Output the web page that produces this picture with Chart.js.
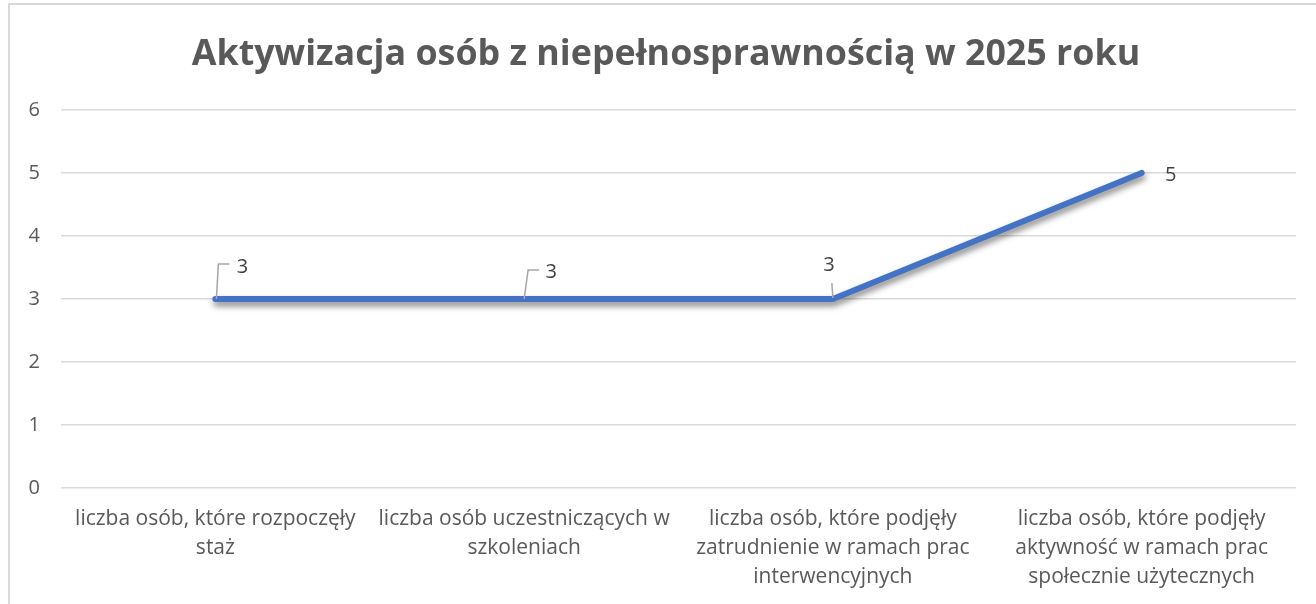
<!DOCTYPE html>
<html>
<head>
<meta charset="utf-8">
<script src="https://cdn.jsdelivr.net/npm/chart.js@4.4.1/dist/chart.umd.min.js"></script>
<style>
  html, body { margin: 0; padding: 0; background: #fff; }
  #wrap { position: absolute; left: 8px; top: 3px; width: 1306px; height: 599px;
          border-left: 2px solid #d9d9d9; border-top: 2px solid #d9d9d9; }
  canvas { display: block; }
</style>
</head>
<body>
<div id="wrap"><canvas id="c" width="1306" height="599"></canvas></div>
<script>
const titleText = 'Aktywizacja osób z niepełnosprawnością w 2025 roku';
const categories = [
  ['liczba osób, które rozpoczęły', 'staż'],
  ['liczba osób uczestniczących w', 'szkoleniach'],
  ['liczba osób, które podjęły', 'zatrudnienie w ramach prac', 'interwencyjnych'],
  ['liczba osób, które podjęły', 'aktywność w ramach prac', 'społecznie użytecznych']
];
const values = [3, 3, 3, 5];
const yTicks = [0, 1, 2, 3, 4, 5, 6];

// label placement relative to each point (style only)
const labelStyle = [
  { dx: 27, dy: -32, leader: [[1, 0], [3, -35], [14, -35]] },
  { dx: 27, dy: -27, leader: [[0, 0], [4, -29], [15, -29]] },
  { dx: -4, dy: -34, leader: [[0, -1], [-1, -16]] },
  { dx: 29, dy: 2, leader: null }
];

const FONT = "'Open Sans', 'DejaVu Sans', sans-serif";

const shadowPlugin = {
  id: 'shadow',
  afterLayout(chart) {
    // centre the title over the same span as the original
    if (chart.titleBlock) { chart.titleBlock.left = 6; chart.titleBlock.right = chart.width; }
  },
  beforeDatasetDraw(chart) {
    const ctx = chart.ctx;
    ctx.save();
    ctx.shadowColor = 'rgba(0,0,0,0.5)';
    ctx.shadowBlur = 6;
    ctx.shadowOffsetX = 1;
    ctx.shadowOffsetY = 4;
  },
  afterDatasetDraw(chart) {
    chart.ctx.restore();
  }
};

const labelPlugin = {
  id: 'dlabels',
  afterDatasetsDraw(chart) {
    const ctx = chart.ctx;
    const meta = chart.getDatasetMeta(0);
    ctx.save();
    meta.data.forEach((pt, i) => {
      const s = labelStyle[i];
      if (s.leader) {
        ctx.beginPath();
        ctx.strokeStyle = '#a6a6a6';
        ctx.lineWidth = 1.5;
        s.leader.forEach((p, k) => {
          if (k === 0) ctx.moveTo(pt.x + p[0], pt.y + p[1]);
          else ctx.lineTo(pt.x + p[0], pt.y + p[1]);
        });
        ctx.stroke();
      }
      ctx.fillStyle = '#404040';
      ctx.font = '20px ' + FONT;
      ctx.textAlign = 'center';
      ctx.textBaseline = 'middle';
      ctx.fillText(String(values[i]), pt.x + s.dx, pt.y + s.dy);
    });
    ctx.restore();
  }
};

new Chart(document.getElementById('c'), {
  type: 'line',
  data: {
    labels: categories,
    datasets: [{
      data: values,
      borderColor: '#4472c4',
      borderWidth: 6,
      borderCapStyle: 'round',
      borderJoinStyle: 'round',
      pointRadius: 0,
      tension: 0,
      fill: false
    }]
  },
  options: {
    responsive: false,
    animation: false,
    devicePixelRatio: 1,
    layout: { padding: { top: 0, right: 20, left: 0, bottom: 0 } },
    plugins: {
      legend: { display: false },
      tooltip: { enabled: false },
      title: {
        display: true,
        text: titleText,
        color: '#595959',
        font: { family: FONT, size: 35.8, weight: 'bold', lineHeight: 1.2 },
        padding: { top: 28, bottom: 34 }
      }
    },
    scales: {
      x: {
        offset: true,
        grid: { display: false, drawTicks: false, offset: true },
        border: { display: false },
        ticks: {
          color: '#595959',
          font: { family: FONT, size: 21, lineHeight: 1.38 },
          padding: 17,
          maxRotation: 0,
          autoSkip: false
        },
        afterFit(scale) { scale.height = 116; }
      },
      y: {
        min: 0, max: 6,
        afterBuildTicks(scale) { scale.ticks = yTicks.map(v => ({ value: v })); },
        grid: { color: '#d9d9d9', lineWidth: 1.5, drawTicks: false },
        border: { display: false },
        ticks: {
          color: '#595959',
          font: { family: FONT, size: 20 },
          padding: 21
        },
        afterFit(scale) { scale.width = 51; }
      }
    }
  },
  plugins: [shadowPlugin, labelPlugin]
});
</script>
</body>
</html>
